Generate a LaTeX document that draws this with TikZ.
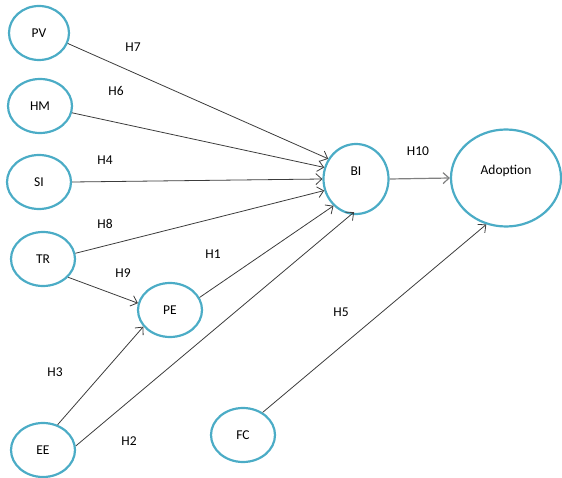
\documentclass[tikz,border=0pt]{standalone}
\usepackage{fontspec}
\setmainfont{Carlito}
\usetikzlibrary{shapes.geometric,arrows.meta}
\definecolor{ringblue}{RGB}{75,172,198}
\definecolor{linegray}{RGB}{60,60,60}
\begin{document}
\begin{tikzpicture}[x=1pt,y=-1pt,
  var/.style={ellipse,draw=ringblue,line width=2.2pt,minimum width=64pt,
    minimum height=54pt,inner sep=0pt,font=\fontsize{13.5}{15}\selectfont},
  link/.style={draw=linegray,line width=0.8pt,
    -{Straight Barb[length=6pt,width=11pt]}},
  hyp/.style={font=\fontsize{13.5}{15}\selectfont}]
  \useasboundingbox (0,0) rectangle (562,478);
  % constructs
  \node[var,minimum width=60pt] (pv) at (39,33) {PV};
  \node[var] (hm) at (40,106) {HM};
  \node[var] (si) at (39,182) {SI};
  \node[var] (tr) at (43,259) {TR};
  \node[var] (pe) at (170,310) {PE};
  \node[var] (ee) at (43,450) {EE};
  \node[var] (fc) at (243,435) {FC};
  \node[var,minimum width=65pt,minimum height=70pt,text depth=16pt] (bi) at (356,179) {BI};
  \node[var,minimum width=110pt,minimum height=97pt,text depth=16pt] (ad) at (506,178) {Adoption};
  % hypotheses
  \node[hyp] (h7) at (133,47) {H7};
  \node[hyp] (h6) at (116,91) {H6};
  \node[hyp] (h4) at (105,160) {H4};
  \node[hyp] (h8) at (105,224) {H8};
  \node[hyp] (h9) at (123,273) {H9};
  \node[hyp] (h1) at (213,254) {H1};
  \node[hyp] (h3) at (55,372) {H3};
  \node[hyp] (h2) at (129,441) {H2};
  \node[hyp] (h5) at (341,312) {H5};
  \node[hyp] (h10) at (418,151) {H10};
  % paths
  \draw[link] (pv.-20) -- (bi.144);
  \draw[link] (hm.-12) -- (bi.160);
  \draw[link] (si.east) -- (bi.west);
  \draw[link] (tr.10) -- (bi.200);
  \draw[link] (tr.-36) -- (pe.168);
  \draw[link] (pe.23) -- (bi.230);
  \draw[link] (ee.60) -- (pe.212);
  \draw[link, shorten >=-4pt] (ee.7) -- (bi.-98);
  \draw[link] (fc.49) -- (ad.-113);
  \draw[link, draw=gray, line width=1.2pt] (bi.east) -- (ad.west);
\end{tikzpicture}
\end{document}
